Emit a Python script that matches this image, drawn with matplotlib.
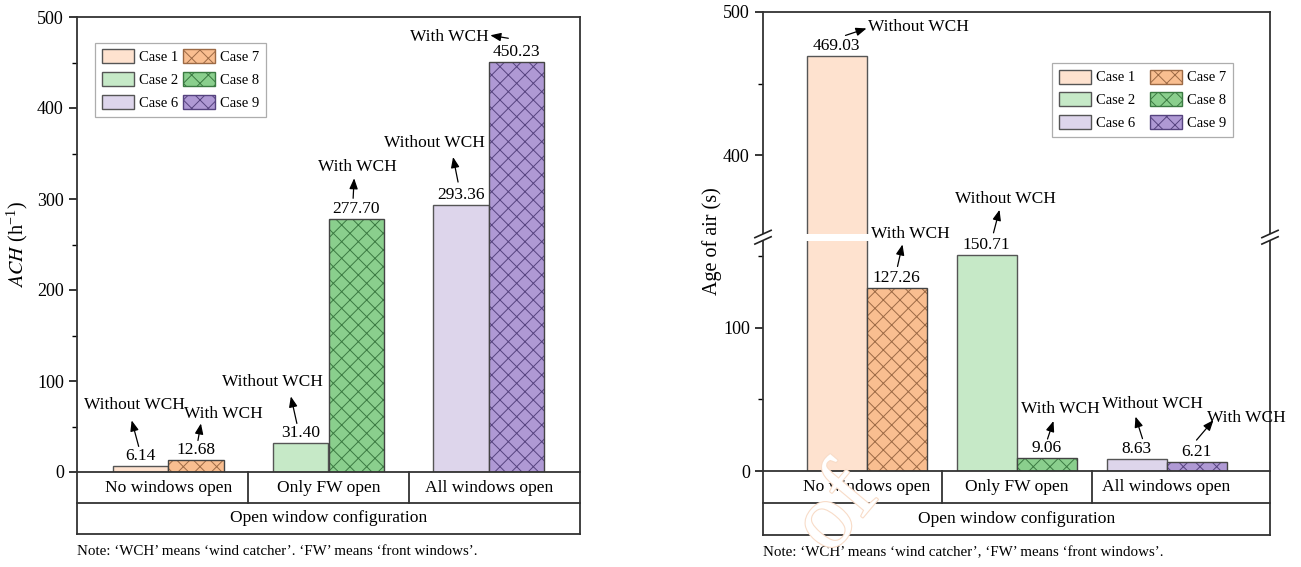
import matplotlib
matplotlib.use('Agg')
import matplotlib.pyplot as plt
import matplotlib.transforms as mtransforms
import matplotlib.patheffects as pe
from matplotlib.patches import Patch, Rectangle
from matplotlib.lines import Line2D
import numpy as np

plt.rcParams['font.family'] = ['Liberation Serif', 'DejaVu Serif']
plt.rcParams['mathtext.fontset'] = 'stix'
plt.rcParams['hatch.linewidth'] = 0.7

# categories and series
configs = ['No windows open', 'Only FW open', 'All windows open']
group_title = 'Open window configuration'
plain_cases = ['Case 1', 'Case 2', 'Case 6']
wch_cases = ['Case 7', 'Case 8', 'Case 9']

ach_plain = [6.14, 31.40, 293.36]
ach_wch = [12.68, 277.70, 450.23]
age_plain = [469.03, 150.71, 8.63]
age_wch = [127.26, 9.06, 6.21]

plain_fill = ['#FEE2CF', '#C6E9C7', '#DDD5EB']
hatch_fill = ['#F9BE90', '#8ACF8D', '#AF99D4']
hatch_line = ['#9C6A45', '#3B7A42', '#56437F']

# arrow tail / head / text offsets (pixels from the bar top), order: plain0, wch0, plain1, ...
ach_marks = [((-2, 20), (-9, 46), (-6, 61), 'center'),
             ((2, 20), (5, 37), (27, 46), 'center'),
             ((-4, 20), (-10, 47), (-28, 61), 'center'),
             ((-3, 21), (-2, 41), (1, 52), 'center'),
             ((-3, 23), (-8, 48), (-27, 62), 'center'),
             ((-8, 24), (-26, 27), (-28, 25), 'right')]
age_marks = [((9, 21), (30, 28), (32, 29), 'left'),
             ((1, 22), (6, 44), (14, 54), 'center'),
             ((7, 22), (13, 45), (19, 56), 'center'),
             ((1, 19), (7, 37), (14, 49), 'center'),
             ((6, 20), (-1, 42), (16, 55), 'center'),
             ((0, 22), (17, 42), (50, 44), 'center')]

# y axis break for the age-of-air panel
brk_lo, brk_hi = 163, 343


def fwd(y):
    y = np.asarray(y, dtype=float)
    return np.where(y <= brk_lo, y, y - (brk_hi - brk_lo))


def inv(y):
    y = np.asarray(y, dtype=float)
    return np.where(y <= brk_lo, y, y + (brk_hi - brk_lo))


fig = plt.figure(figsize=(13.01, 5.67), dpi=100)
ax1 = fig.add_axes([77 / 1301, 95 / 567, 503 / 1301, 455 / 567])
ax2 = fig.add_axes([763 / 1301, 96 / 567, 507 / 1301, 459 / 567])


def draw_bars(ax, plain, wch, width, marks):
    x = np.arange(len(configs))
    tops = []
    for i in range(len(configs)):
        xp = x[i] - width / 2
        xw = x[i] + width / 2
        ax.bar(xp, plain[i], width, color=plain_fill[i], edgecolor='#555555', linewidth=1.0, zorder=2)
        ax.bar(xw, wch[i], width, color=hatch_fill[i], edgecolor=hatch_line[i], hatch='xx',
               linewidth=0, zorder=2)
        ax.bar(xw, wch[i], width, fill=False, edgecolor='#444444', linewidth=1.0, zorder=2)
        tops += [(xp, plain[i], 'Without WCH'), (xw, wch[i], 'With WCH')]
    for (bx, v, note), (tail, head, txt, ha) in zip(tops, marks):
        ax.annotate(f'{v:.2f}', xy=(bx, v), xytext=(0, 2), textcoords='offset pixels',
                    ha='center', va='bottom', fontsize=12.5, zorder=5)
        t_tail = mtransforms.offset_copy(ax.transData, fig=fig, x=tail[0], y=tail[1], units='dots')
        t_head = mtransforms.offset_copy(ax.transData, fig=fig, x=head[0], y=head[1], units='dots')
        ax.annotate('', xy=(bx, v), xycoords=t_head, xytext=(bx, v), textcoords=t_tail,
                    arrowprops=dict(arrowstyle='-|>,head_length=0.45,head_width=0.18',
                                    mutation_scale=14, color='black', lw=0.9,
                                    shrinkA=0, shrinkB=0), zorder=5)
        ax.annotate(note, xy=(bx, v), xytext=txt, textcoords='offset pixels',
                    ha=ha, va='center', fontsize=12.5, zorder=5, annotation_clip=False)


def draw_table(ax, row, note):
    tr = mtransforms.blended_transform_factory(ax.transData, ax.transAxes)
    kw = dict(color='#333333', lw=1.3, clip_on=False, solid_capstyle='projecting')
    for yy in (-row, -2 * row):
        ax.add_line(Line2D([0, 1], [yy, yy], transform=ax.transAxes, **kw))
    for xx in (0, 1):
        ax.add_line(Line2D([xx, xx], [0, -2 * row], transform=ax.transAxes, **kw))
    for xx in (0.5, 1.5):
        ax.add_line(Line2D([xx, xx], [0, -row], transform=tr, **kw))
    for i, name in enumerate(configs):
        ax.text(i, -row / 2, name, transform=tr, ha='center', va='center', fontsize=12.6)
    ax.text(0.5, -1.5 * row, group_title, transform=ax.transAxes, ha='center', va='center',
            fontsize=12.6)
    ax.text(0.0, -2 * row - 0.038, note, transform=ax.transAxes, ha='left', va='center',
            fontsize=10.8)


def style_axis(ax):
    for s in ax.spines.values():
        s.set_linewidth(1.3)
        s.set_color('#333333')
    ax.tick_params(axis='x', bottom=False, labelbottom=False)
    ax.tick_params(axis='y', which='major', length=6, width=1.1, labelsize=13, direction='out')
    ax.tick_params(axis='y', which='minor', length=3.5, width=1.0, direction='out')


def legend_handles():
    hs = [Patch(facecolor=c, edgecolor='#555555', linewidth=1.0, label=l)
          for c, l in zip(plain_fill, plain_cases)]
    hs += [Patch(facecolor=c, edgecolor=e, hatch='xx', linewidth=1.0, label=l)
           for c, e, l in zip(hatch_fill, hatch_line, wch_cases)]
    return hs


def add_legend(ax, anchor, colsp):
    leg = ax.legend(handles=legend_handles(), ncol=2, loc='upper left', bbox_to_anchor=anchor,
                    borderaxespad=0, fontsize=10.5, frameon=True, fancybox=False,
                    edgecolor='#999999', handlelength=2.2, handleheight=1.1, handletextpad=0.35,
                    columnspacing=colsp, labelspacing=0.55, borderpad=0.45)
    leg.get_frame().set_linewidth(0.9)


# left: air changes per hour
draw_bars(ax1, ach_plain, ach_wch, 0.345, ach_marks)
ax1.set_xlim(-0.57, 2.57)
ax1.set_ylim(0, 500)
ax1.set_yticks([0, 100, 200, 300, 400, 500])
ax1.set_yticks(np.arange(50, 500, 100), minor=True)
style_axis(ax1)
ax1.set_ylabel('$ACH$ (h$^{\\mathregular{-1}}$)', fontsize=14.5)
ax1.yaxis.set_label_coords(-0.093, 0.5)
add_legend(ax1, (0.036, 0.943), 0.35)
draw_table(ax1, 31 / 455, 'Note: \u2018WCH\u2019 means \u2018wind catcher\u2019. \u2018FW\u2019 means \u2018front windows\u2019.')

# right: age of air with a broken y axis
ax2.set_yscale('function', functions=(fwd, inv))
draw_bars(ax2, age_plain, age_wch, 0.4, age_marks)
ax2.set_xlim(-0.69, 2.69)
ax2.set_ylim(0, 500)
ax2.set_yticks([0, 100, 400, 500])
ax2.set_yticks([50, 150, 450], minor=True)
ax2.yaxis.set_major_formatter(plt.FormatStrFormatter('%d'))
ax2.yaxis.set_minor_formatter(plt.NullFormatter())
style_axis(ax2)
ax2.set_ylabel('Age of air (s)', fontsize=14.5)
ax2.yaxis.set_label_coords(-0.081, 0.5)
add_legend(ax2, (0.570, 0.889), 1.0)
draw_table(ax2, 32 / 459, 'Note: \u2018WCH\u2019 means \u2018wind catcher\u2019, \u2018FW\u2019 means \u2018front windows\u2019.')

# white gap and break marks
yb = brk_lo / (500 - (brk_hi - brk_lo))
ax2.add_patch(Rectangle((-0.02, yb - 0.008), 1.04, 0.016, transform=ax2.transAxes,
                        facecolor='white', edgecolor='none', zorder=4, clip_on=False))
for xs in (0, 1):
    for dy in (-0.007, 0.007):
        ax2.add_line(Line2D([xs - 0.016, xs + 0.016], [yb + dy - 0.008, yb + dy + 0.008],
                            transform=ax2.transAxes, color='#222222', lw=1.2, clip_on=False, zorder=6))

# faint page watermark fragment
fig.text(838 / 1301, 1 - 512 / 567, 'of', rotation=50, ha='center', va='center', fontsize=68,
         color='white', zorder=10,
         path_effects=[pe.withStroke(linewidth=1.6, foreground='#F8DCC8')])

fig.savefig('out.png', dpi=100)
